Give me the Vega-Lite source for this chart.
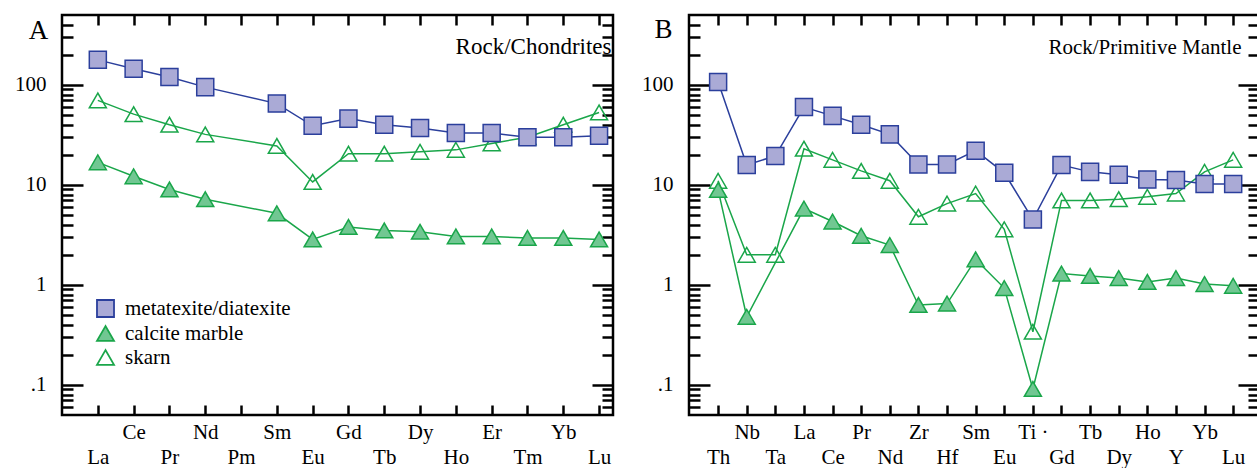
{
  "$schema": "https://vega.github.io/schema/vega-lite/v6.json",
  "padding": {"left": 13, "top": 12, "right": 0, "bottom": 0},
  "spacing": 24,
  "config": {
    "view": {"stroke": "black", "strokeWidth": 2.5},
    "font": "Liberation Serif",
    "axis": {"grid": false, "domain": false, "tickColor": "black", "tickWidth": 2.5, "labelColor": "black", "labelFont": "Liberation Serif", "labelFontSize": 21, "titleFont": "Liberation Serif", "titleColor": "black", "titleFontWeight": "normal"},
    "legend": {"labelFont": "Liberation Serif", "labelFontSize": 21, "labelColor": "black", "labelLimit": 0}
  },
  "datasets": {
    "ree": [
      {"el": "La", "series": "skarn", "v": 70},
      {"el": "Ce", "series": "skarn", "v": 51},
      {"el": "Pr", "series": "skarn", "v": 40},
      {"el": "Nd", "series": "skarn", "v": 32},
      {"el": "Sm", "series": "skarn", "v": 24.5},
      {"el": "Eu", "series": "skarn", "v": 10.7},
      {"el": "Gd", "series": "skarn", "v": 20.5},
      {"el": "Tb", "series": "skarn", "v": 20.5},
      {"el": "Dy", "series": "skarn", "v": 21.4},
      {"el": "Ho", "series": "skarn", "v": 22.4},
      {"el": "Er", "series": "skarn", "v": 26},
      {"el": "Tm", "series": "skarn", "v": 30},
      {"el": "Yb", "series": "skarn", "v": 40},
      {"el": "Lu", "series": "skarn", "v": 53},
      {"el": "La", "series": "calcite marble", "v": 16.8},
      {"el": "Ce", "series": "calcite marble", "v": 12.2},
      {"el": "Pr", "series": "calcite marble", "v": 9.0},
      {"el": "Nd", "series": "calcite marble", "v": 7.2},
      {"el": "Sm", "series": "calcite marble", "v": 5.2},
      {"el": "Eu", "series": "calcite marble", "v": 2.85},
      {"el": "Gd", "series": "calcite marble", "v": 3.8},
      {"el": "Tb", "series": "calcite marble", "v": 3.5},
      {"el": "Dy", "series": "calcite marble", "v": 3.4},
      {"el": "Ho", "series": "calcite marble", "v": 3.05},
      {"el": "Er", "series": "calcite marble", "v": 3.05},
      {"el": "Tm", "series": "calcite marble", "v": 2.95},
      {"el": "Yb", "series": "calcite marble", "v": 2.95},
      {"el": "Lu", "series": "calcite marble", "v": 2.85},
      {"el": "La", "series": "metatexite/diatexite", "v": 178},
      {"el": "Ce", "series": "metatexite/diatexite", "v": 145},
      {"el": "Pr", "series": "metatexite/diatexite", "v": 120},
      {"el": "Nd", "series": "metatexite/diatexite", "v": 95},
      {"el": "Sm", "series": "metatexite/diatexite", "v": 65},
      {"el": "Eu", "series": "metatexite/diatexite", "v": 39},
      {"el": "Gd", "series": "metatexite/diatexite", "v": 46},
      {"el": "Tb", "series": "metatexite/diatexite", "v": 40},
      {"el": "Dy", "series": "metatexite/diatexite", "v": 37},
      {"el": "Ho", "series": "metatexite/diatexite", "v": 33},
      {"el": "Er", "series": "metatexite/diatexite", "v": 33},
      {"el": "Tm", "series": "metatexite/diatexite", "v": 30},
      {"el": "Yb", "series": "metatexite/diatexite", "v": 30},
      {"el": "Lu", "series": "metatexite/diatexite", "v": 31}
    ],
    "spider": [
      {"el": "Th", "series": "skarn", "v": 11},
      {"el": "Nb", "series": "skarn", "v": 2.0},
      {"el": "Ta", "series": "skarn", "v": 2.0},
      {"el": "La", "series": "skarn", "v": 23},
      {"el": "Ce", "series": "skarn", "v": 17.8},
      {"el": "Pr", "series": "skarn", "v": 13.8},
      {"el": "Nd", "series": "skarn", "v": 11},
      {"el": "Zr", "series": "skarn", "v": 4.8},
      {"el": "Hf", "series": "skarn", "v": 6.5},
      {"el": "Sm", "series": "skarn", "v": 8.2},
      {"el": "Eu", "series": "skarn", "v": 3.6},
      {"el": "Ti", "series": "skarn", "v": 0.34},
      {"el": "Gd", "series": "skarn", "v": 7.0},
      {"el": "Tb", "series": "skarn", "v": 7.0},
      {"el": "Dy", "series": "skarn", "v": 7.2},
      {"el": "Ho", "series": "skarn", "v": 7.6},
      {"el": "Y", "series": "skarn", "v": 8.2},
      {"el": "Yb", "series": "skarn", "v": 13.5},
      {"el": "Lu", "series": "skarn", "v": 17.8},
      {"el": "Th", "series": "calcite marble", "v": 8.9},
      {"el": "Nb", "series": "calcite marble", "v": 0.48},
      {"el": "La", "series": "calcite marble", "v": 5.8},
      {"el": "Ce", "series": "calcite marble", "v": 4.3},
      {"el": "Pr", "series": "calcite marble", "v": 3.1},
      {"el": "Nd", "series": "calcite marble", "v": 2.5},
      {"el": "Zr", "series": "calcite marble", "v": 0.63},
      {"el": "Hf", "series": "calcite marble", "v": 0.65},
      {"el": "Sm", "series": "calcite marble", "v": 1.8},
      {"el": "Eu", "series": "calcite marble", "v": 0.93},
      {"el": "Ti", "series": "calcite marble", "v": 0.091},
      {"el": "Gd", "series": "calcite marble", "v": 1.3},
      {"el": "Tb", "series": "calcite marble", "v": 1.23},
      {"el": "Dy", "series": "calcite marble", "v": 1.17},
      {"el": "Ho", "series": "calcite marble", "v": 1.07},
      {"el": "Y", "series": "calcite marble", "v": 1.17},
      {"el": "Yb", "series": "calcite marble", "v": 1.02},
      {"el": "Lu", "series": "calcite marble", "v": 0.98},
      {"el": "Th", "series": "metatexite/diatexite", "v": 107},
      {"el": "Nb", "series": "metatexite/diatexite", "v": 15.8},
      {"el": "Ta", "series": "metatexite/diatexite", "v": 19.5},
      {"el": "La", "series": "metatexite/diatexite", "v": 60},
      {"el": "Ce", "series": "metatexite/diatexite", "v": 49},
      {"el": "Pr", "series": "metatexite/diatexite", "v": 40},
      {"el": "Nd", "series": "metatexite/diatexite", "v": 32},
      {"el": "Zr", "series": "metatexite/diatexite", "v": 16},
      {"el": "Hf", "series": "metatexite/diatexite", "v": 16},
      {"el": "Sm", "series": "metatexite/diatexite", "v": 22},
      {"el": "Eu", "series": "metatexite/diatexite", "v": 13.2},
      {"el": "Ti", "series": "metatexite/diatexite", "v": 4.5},
      {"el": "Gd", "series": "metatexite/diatexite", "v": 15.8},
      {"el": "Tb", "series": "metatexite/diatexite", "v": 13.5},
      {"el": "Dy", "series": "metatexite/diatexite", "v": 12.6},
      {"el": "Ho", "series": "metatexite/diatexite", "v": 11.3},
      {"el": "Y", "series": "metatexite/diatexite", "v": 11.2},
      {"el": "Yb", "series": "metatexite/diatexite", "v": 10.2},
      {"el": "Lu", "series": "metatexite/diatexite", "v": 10.2}
    ]
  },
  "resolve": {
    "scale": {"shape": "independent", "fill": "independent", "stroke": "independent", "color": "independent"},
    "legend": {"shape": "independent", "fill": "independent", "stroke": "independent", "color": "independent"}
  },
  "hconcat": [
    {
      "width": 551,
      "height": 400,
      "data": {"name": "ree"},
      "resolve": {"axis": {"x": "independent", "y": "independent"}},
      "layer": [
        {
          "mark": {"type": "line", "strokeWidth": 1.5},
          "encoding": {
            "x": {"field": "el", "type": "ordinal",
              "scale": {"type": "point", "domain": ["La","Ce","Pr","Nd","Pm","Sm","Eu","Gd","Tb","Dy","Ho","Er","Tm","Yb","Lu"], "padding": 0.695, "align": 0.72},
              "axis": {"orient": "bottom", "title": null, "labelAngle": 0, "tickSize": -10,
                "labelPadding": {"condition": {"test": "indexof(['Ce','Nd','Sm','Gd','Dy','Er','Yb'], datum.value) >= 0", "value": 16}, "value": 41}}},
            "y": {"field": "v", "type": "quantitative",
              "scale": {"type": "log", "domain": [0.05, 500]},
              "axis": {"orient": "left", "labelOverlap": false,
                "values": [0.06,0.07,0.08,0.09,0.1,0.2,0.3,0.4,0.5,0.6,0.7,0.8,0.9,1,2,3,4,5,6,7,8,9,10,20,30,40,50,60,70,80,90,100,200,300,400],
                "labelExpr": "datum.value == 0.1 ? '.1' : datum.value == 1 ? '1' : datum.value == 10 ? '10' : datum.value == 100 ? '100' : ''",
                "tickSize": {"condition": {"test": "datum.value == 0.1 || datum.value == 1 || datum.value == 10 || datum.value == 100", "value": -21}, "value": -11},
                "labelPadding": 37,
                "title": "A", "titleAngle": 0, "titleX": -24, "titleY": 23, "titleAlign": "center", "titleBaseline": "alphabetic", "titleFontSize": 27}},
            "detail": {"field": "series", "type": "nominal"},
            "stroke": {"field": "series", "type": "nominal",
              "scale": {"domain": ["metatexite/diatexite", "calcite marble", "skarn"], "range": ["#2b3f9c", "#1aa64a", "#1aa64a"]},
              "legend": {"orient": "none", "legendX": 33, "legendY": 283, "title": null, "symbolSize": 290, "symbolStrokeWidth": 1.8, "labelOffset": 9, "rowPadding": 1, "padding": 0}},
            "order": {"value": null}
          }
        },
        {
          "mark": {"type": "point", "filled": true, "opacity": 1, "strokeWidth": 1.5, "size": 290},
          "encoding": {
            "x": {"field": "el", "type": "ordinal",
              "scale": {"type": "point", "domain": ["La","Ce","Pr","Nd","Pm","Sm","Eu","Gd","Tb","Dy","Ho","Er","Tm","Yb","Lu"], "padding": 0.695, "align": 0.72}, "axis": null},
            "y": {"field": "v", "type": "quantitative", "scale": {"type": "log", "domain": [0.05, 500]}, "axis": null},
            "shape": {"field": "series", "type": "nominal",
              "scale": {"domain": ["metatexite/diatexite", "calcite marble", "skarn"], "range": ["square", "triangle-up", "triangle-up"]},
              "legend": {"orient": "none", "legendX": 33, "legendY": 283, "title": null, "symbolSize": 290, "symbolStrokeWidth": 1.8, "labelOffset": 9, "rowPadding": 1, "padding": 0}},
            "fill": {"field": "series", "type": "nominal",
              "scale": {"domain": ["metatexite/diatexite", "calcite marble", "skarn"], "range": ["#aaaad6", "#71c792", "transparent"]},
              "legend": {"orient": "none", "legendX": 33, "legendY": 283, "title": null, "symbolSize": 290, "symbolStrokeWidth": 1.8, "labelOffset": 9, "rowPadding": 1, "padding": 0}},
            "stroke": {"field": "series", "type": "nominal",
              "scale": {"domain": ["metatexite/diatexite", "calcite marble", "skarn"], "range": ["#2b3f9c", "#1aa64a", "#1aa64a"]},
              "legend": {"orient": "none", "legendX": 33, "legendY": 283, "title": null, "symbolSize": 290, "symbolStrokeWidth": 1.8, "labelOffset": 9, "rowPadding": 1, "padding": 0}}
          }
        },
        {
          "mark": {"type": "point", "opacity": 0},
          "encoding": {
            "x": {"field": "el", "type": "ordinal",
              "scale": {"type": "point", "domain": ["La","Ce","Pr","Nd","Pm","Sm","Eu","Gd","Tb","Dy","Ho","Er","Tm","Yb","Lu"], "padding": 0.695, "align": 0.72},
              "axis": {"orient": "top", "title": null, "labels": false, "tickSize": -10}},
            "y": {"field": "v", "type": "quantitative", "scale": {"type": "log", "domain": [0.05, 500]},
              "axis": {"orient": "right", "labels": false,
                "values": [0.06,0.07,0.08,0.09,0.1,0.2,0.3,0.4,0.5,0.6,0.7,0.8,0.9,1,2,3,4,5,6,7,8,9,10,20,30,40,50,60,70,80,90,100,200,300,400],
                "tickSize": {"condition": {"test": "datum.value == 0.1 || datum.value == 1 || datum.value == 10 || datum.value == 100", "value": -21}, "value": -11},
                "title": "Rock/Chondrites", "titleAngle": 0, "titleX": -2, "titleY": 38, "titleAlign": "right", "titleBaseline": "alphabetic", "titleFontSize": 23}}
          }
        }
      ]
    },
    {
      "width": 570,
      "height": 400,
      "data": {"name": "spider"},
      "resolve": {"axis": {"x": "independent", "y": "independent"}},
      "layer": [
        {
          "mark": {"type": "line", "strokeWidth": 1.5},
          "encoding": {
            "x": {"field": "el", "type": "ordinal",
              "scale": {"type": "point", "domain": ["Th","Nb","Ta","La","Ce","Pr","Nd","Zr","Hf","Sm","Eu","Ti","Gd","Tb","Dy","Ho","Y","Yb","Lu"], "padding": 0.96, "align": 0.53},
              "axis": {"orient": "bottom", "title": null, "labelAngle": 0, "tickSize": -10,
                "labelExpr": "datum.value == 'Ti' ? 'Ti \u00b7' : datum.value",
                "labelPadding": {"condition": {"test": "indexof(['Nb','La','Pr','Zr','Sm','Ti','Tb','Ho','Yb'], datum.value) >= 0", "value": 16}, "value": 41}}},
            "y": {"field": "v", "type": "quantitative",
              "scale": {"type": "log", "domain": [0.05, 500]},
              "axis": {"orient": "left", "labelOverlap": false,
                "values": [0.06,0.07,0.08,0.09,0.1,0.2,0.3,0.4,0.5,0.6,0.7,0.8,0.9,1,2,3,4,5,6,7,8,9,10,20,30,40,50,60,70,80,90,100,200,300,400],
                "labelExpr": "datum.value == 0.1 ? '.1' : datum.value == 1 ? '1' : datum.value == 10 ? '10' : datum.value == 100 ? '100' : ''",
                "tickSize": {"condition": {"test": "datum.value == 0.1 || datum.value == 1 || datum.value == 10 || datum.value == 100", "value": -21}, "value": -11},
                "labelPadding": 37,
                "title": "B", "titleAngle": 0, "titleX": -26, "titleY": 22, "titleAlign": "center", "titleBaseline": "alphabetic", "titleFontSize": 27}},
            "detail": {"field": "series", "type": "nominal"},
            "stroke": {"field": "series", "type": "nominal",
              "scale": {"domain": ["metatexite/diatexite", "calcite marble", "skarn"], "range": ["#2b3f9c", "#1aa64a", "#1aa64a"]}, "legend": null},
            "order": {"value": null}
          }
        },
        {
          "mark": {"type": "point", "filled": true, "opacity": 1, "strokeWidth": 1.5, "size": 290},
          "encoding": {
            "x": {"field": "el", "type": "ordinal",
              "scale": {"type": "point", "domain": ["Th","Nb","Ta","La","Ce","Pr","Nd","Zr","Hf","Sm","Eu","Ti","Gd","Tb","Dy","Ho","Y","Yb","Lu"], "padding": 0.96, "align": 0.53}, "axis": null},
            "y": {"field": "v", "type": "quantitative", "scale": {"type": "log", "domain": [0.05, 500]}, "axis": null},
            "shape": {"field": "series", "type": "nominal",
              "scale": {"domain": ["metatexite/diatexite", "calcite marble", "skarn"], "range": ["square", "triangle-up", "triangle-up"]}, "legend": null},
            "fill": {"field": "series", "type": "nominal",
              "scale": {"domain": ["metatexite/diatexite", "calcite marble", "skarn"], "range": ["#aaaad6", "#71c792", "transparent"]}, "legend": null},
            "stroke": {"field": "series", "type": "nominal",
              "scale": {"domain": ["metatexite/diatexite", "calcite marble", "skarn"], "range": ["#2b3f9c", "#1aa64a", "#1aa64a"]}, "legend": null}
          }
        },
        {
          "mark": {"type": "point", "opacity": 0},
          "encoding": {
            "x": {"field": "el", "type": "ordinal",
              "scale": {"type": "point", "domain": ["Th","Nb","Ta","La","Ce","Pr","Nd","Zr","Hf","Sm","Eu","Ti","Gd","Tb","Dy","Ho","Y","Yb","Lu"], "padding": 0.96, "align": 0.53},
              "axis": {"orient": "top", "title": null, "labels": false, "tickSize": -10}},
            "y": {"field": "v", "type": "quantitative", "scale": {"type": "log", "domain": [0.05, 500]},
              "axis": {"orient": "right", "labels": false,
                "values": [0.06,0.07,0.08,0.09,0.1,0.2,0.3,0.4,0.5,0.6,0.7,0.8,0.9,1,2,3,4,5,6,7,8,9,10,20,30,40,50,60,70,80,90,100,200,300,400],
                "tickSize": {"condition": {"test": "datum.value == 0.1 || datum.value == 1 || datum.value == 10 || datum.value == 100", "value": -21}, "value": -11},
                "title": "Rock/Primitive Mantle", "titleAngle": 0, "titleX": -18, "titleY": 38, "titleAlign": "right", "titleBaseline": "alphabetic", "titleFontSize": 21}}
          }
        }
      ]
    }
  ]
}
